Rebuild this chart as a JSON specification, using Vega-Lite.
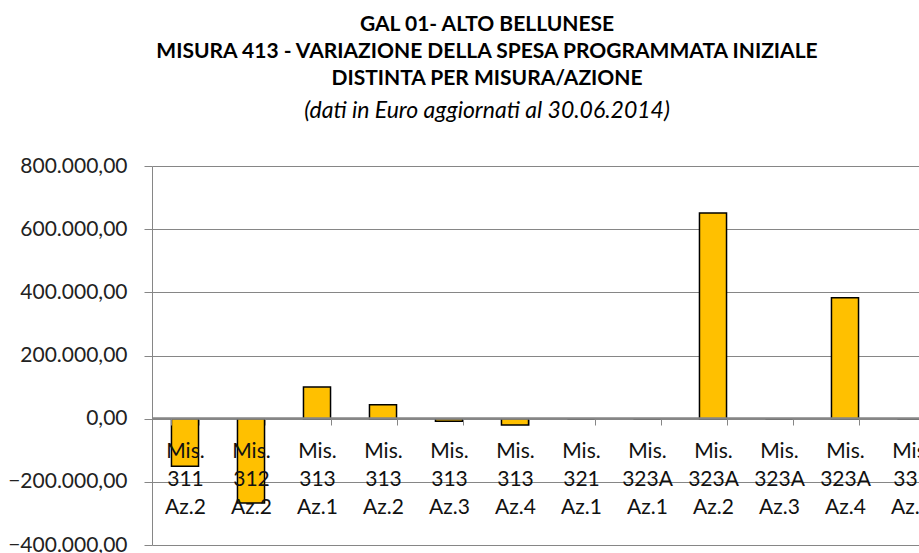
{
  "$schema": "https://vega.github.io/schema/vega-lite/v6.json",
  "autosize": {"type": "none"},
  "padding": {"left": 152, "top": 166, "right": 0, "bottom": 8},
  "width": 792,
  "height": 379,
  "background": "white",
  "config": {
    "locale": {"number": {"decimal": ",", "thousands": ".", "grouping": [3], "currency": ["€", ""]}},
    "view": {"stroke": null},
    "font": "Lato"
  },
  "title": {
    "text": ["GAL 01- ALTO BELLUNESE", "MISURA 413 - VARIAZIONE DELLA SPESA PROGRAMMATA INIZIALE", "DISTINTA PER MISURA/AZIONE"],
    "subtitle": "(dati in Euro aggiornati al 30.06.2014)",
    "anchor": "middle",
    "frame": "group",
    "dx": -61,
    "offset": 32,
    "font": "Lato",
    "fontSize": 21,
    "fontWeight": "bold",
    "color": "#000000",
    "lineHeight": 27,
    "subtitleFont": "Lato",
    "subtitleFontSize": 23,
    "subtitleFontStyle": "italic",
    "subtitleColor": "#000000",
    "subtitlePadding": 11
  },
  "data": {
    "values": [
      {"categoria": "Mis. 311 Az.2", "variazione": -151000},
      {"categoria": "Mis. 312 Az.2", "variazione": -267000},
      {"categoria": "Mis. 313 Az.1", "variazione": 100000},
      {"categoria": "Mis. 313 Az.2", "variazione": 44000},
      {"categoria": "Mis. 313 Az.3", "variazione": -8000},
      {"categoria": "Mis. 313 Az.4", "variazione": -20000},
      {"categoria": "Mis. 321 Az.1", "variazione": 0},
      {"categoria": "Mis. 323A Az.1", "variazione": 0},
      {"categoria": "Mis. 323A Az.2", "variazione": 651000},
      {"categoria": "Mis. 323A Az.3", "variazione": 0},
      {"categoria": "Mis. 323A Az.4", "variazione": 383000},
      {"categoria": "Mis. 331 Az.1", "variazione": 0}
    ]
  },
  "mark": {"type": "bar", "color": "#FFC000", "stroke": "#000000", "strokeWidth": 1.5},
  "encoding": {
    "x": {
      "field": "categoria",
      "type": "nominal",
      "sort": null,
      "scale": {"paddingInner": 0.59, "paddingOuter": 0.295},
      "axis": {
        "title": null,
        "orient": "bottom",
        "offset": -127,
        "zindex": 1,
        "labelAngle": 0,
        "labelExpr": "split(datum.label, ' ')",
        "labelFont": "Lato",
        "labelFontSize": 21,
        "labelLineHeight": 28,
        "labelColor": "#111111",
        "labelBaseline": "top",
        "labelPadding": 15,
        "labelOverlap": false,
        "domainColor": "#868686",
        "domainWidth": 2.5,
        "tickColor": "#868686",
        "tickSize": 7,
        "tickBand": "extent",
        "ticks": true,
        "grid": false
      }
    },
    "y": {
      "field": "variazione",
      "type": "quantitative",
      "scale": {"domain": [-400000, 800000], "nice": false, "zero": true},
      "axis": {
        "title": null,
        "values": [-400000, -200000, 0, 200000, 400000, 600000, 800000],
        "format": ",.2f",
        "labelFont": "Lato",
        "labelFontSize": 21,
        "labelColor": "#222222",
        "labelPadding": 17,
        "tickSize": 8,
        "tickColor": "#868686",
        "domainColor": "#868686",
        "gridColor": "#868686",
        "gridWidth": 1,
        "grid": true
      }
    }
  }
}
